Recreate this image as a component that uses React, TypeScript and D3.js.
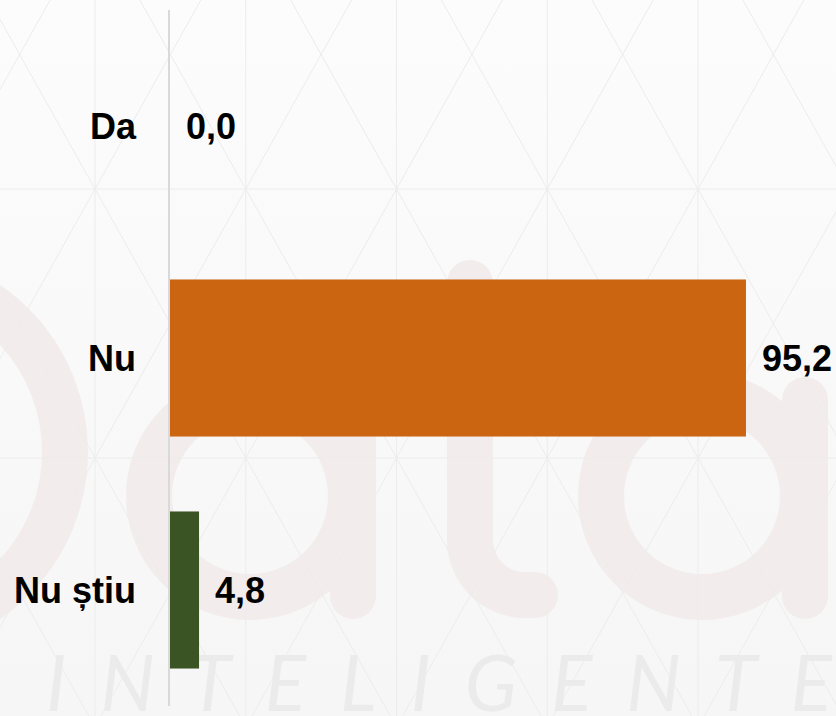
import React, { useEffect, useRef } from 'react'
import * as d3 from 'd3'

// date grafic
const categories = ['Da', 'Nu', 'Nu știu']
const values = [0.0, 95.2, 4.8]
const barColors = ['#CC6512', '#CC6512', '#3A5424']
const xDomain = [0, 100]

const W = 836
const H = 716

const App = () => {
  const svgRef = useRef<SVGSVGElement>(null)

  function drawChart() {
    const svg = d3.select(svgRef.current)
    svg.selectAll('*').remove()

    const ro = d3.formatLocale({
      decimal: ',',
      thousands: '.',
      grouping: [3],
      currency: ['', ' lei']
    })
    const fmt = ro.format('.1f')

    // fundal
    const defs = svg.append('defs')
    const bg = defs
      .append('linearGradient')
      .attr('id', 'bg')
      .attr('x1', '0%')
      .attr('y1', '0%')
      .attr('x2', '0%')
      .attr('y2', '100%')
    bg.append('stop').attr('offset', '0%').attr('stop-color', '#fcfcfc')
    bg.append('stop').attr('offset', '100%').attr('stop-color', '#f6f6f6')
    svg
      .append('rect')
      .attr('width', W)
      .attr('height', H)
      .attr('fill', 'url(#bg)')

    // watermark "Data"
    const wm = svg
      .append('g')
      .attr('fill', 'none')
      .attr('stroke', '#f3ecec')
      .attr('stroke-width', 46)
      .attr('stroke-linecap', 'round')
    wm.append('circle').attr('cx', -115).attr('cy', 452).attr('r', 180)
    wm.append('circle').attr('cx', 250).attr('cy', 496).attr('r', 101)
    wm.append('path').attr('d', 'M353,400V596')
    wm.append('path').attr('d', 'M470,283V540A55,55 0 0 0 525,595H535')
    wm.append('circle').attr('cx', 702).attr('cy', 496).attr('r', 101)
    wm.append('path').attr('d', 'M805,400V596')

    svg
      .append('text')
      .text('INTELIGENTE')
      .attr('x', 46)
      .attr('y', 711)
      .attr('textLength', 786)
      .attr('lengthAdjust', 'spacing')
      .style('font-family', 'Lato, "Open Sans", sans-serif')
      .style('font-weight', 400)
      .style('font-style', 'italic')
      .style('font-size', '77px')
      .attr('fill', '#ebebeb')

    // grila triunghiulara
    const grid = svg
      .append('g')
      .attr('stroke', '#ececec')
      .attr('stroke-width', 1)
      .attr('fill', 'none')
    const gx = 150.75
    const gy = 269
    const x0 = 95
    const y0 = 189
    for (let i = -3; i < 8; i++) {
      const x = x0 + i * gx
      grid.append('line').attr('x1', x).attr('y1', 0).attr('x2', x).attr('y2', H)
    }
    for (let j = -1; j < 3; j++) {
      const y = y0 + j * gy
      grid.append('line').attr('x1', 0).attr('y1', y).attr('x2', W).attr('y2', y)
    }
    const slope = gy / gx
    for (let i = -8; i < 12; i++) {
      const x = x0 + i * gx
      grid
        .append('line')
        .attr('x1', x - y0 / slope)
        .attr('y1', 0)
        .attr('x2', x + (H - y0) / slope)
        .attr('y2', H)
      grid
        .append('line')
        .attr('x1', x + y0 / slope)
        .attr('y1', 0)
        .attr('x2', x - (H - y0) / slope)
        .attr('y2', H)
    }

    // scale
    const xScale = d3.scaleLinear().domain(xDomain).range([170, 775])
    const yScale = d3
      .scaleBand()
      .domain(categories)
      .range([10, 706])
      .paddingInner(0.323)
      .paddingOuter(0.1615)

    // axa verticala
    svg
      .append('line')
      .attr('x1', 169)
      .attr('x2', 169)
      .attr('y1', yScale.range()[0])
      .attr('y2', yScale.range()[1])
      .attr('stroke', '#d9d9d9')
      .attr('stroke-width', 2)

    const rows = categories.map((c, i) => ({ c, v: values[i], color: barColors[i] }))

    svg
      .selectAll('.bar')
      .data(rows)
      .enter()
      .append('rect')
      .attr('class', 'bar')
      .attr('x', xScale(0))
      .attr('y', (d) => yScale(d.c) as number)
      .attr('width', (d) => xScale(d.v) - xScale(0))
      .attr('height', yScale.bandwidth())
      .attr('fill', (d) => d.color)

    const font = '"Liberation Sans", Arial, Helvetica, sans-serif'

    svg
      .selectAll('.cat')
      .data(rows)
      .enter()
      .append('text')
      .attr('class', 'cat')
      .text((d) => d.c)
      .attr('x', 136)
      .attr('y', (d) => (yScale(d.c) as number) + yScale.bandwidth() / 2)
      .attr('dy', '0.35em')
      .attr('text-anchor', 'end')
      .style('font-family', font)
      .style('font-weight', 'bold')
      .style('font-size', '36px')
      .attr('fill', '#000')

    svg
      .selectAll('.val')
      .data(rows)
      .enter()
      .append('text')
      .attr('class', 'val')
      .text((d) => fmt(d.v))
      .attr('x', (d) => xScale(d.v) + 16)
      .attr('y', (d) => (yScale(d.c) as number) + yScale.bandwidth() / 2)
      .attr('dy', '0.35em')
      .style('font-family', font)
      .style('font-weight', 'bold')
      .style('font-size', '36px')
      .attr('fill', '#000')
  }

  useEffect(() => {
    document.body.style.margin = '0'
    drawChart()
  }, [])

  return <svg ref={svgRef} width={W} height={H} style={{ display: 'block' }} />
}

export default App
